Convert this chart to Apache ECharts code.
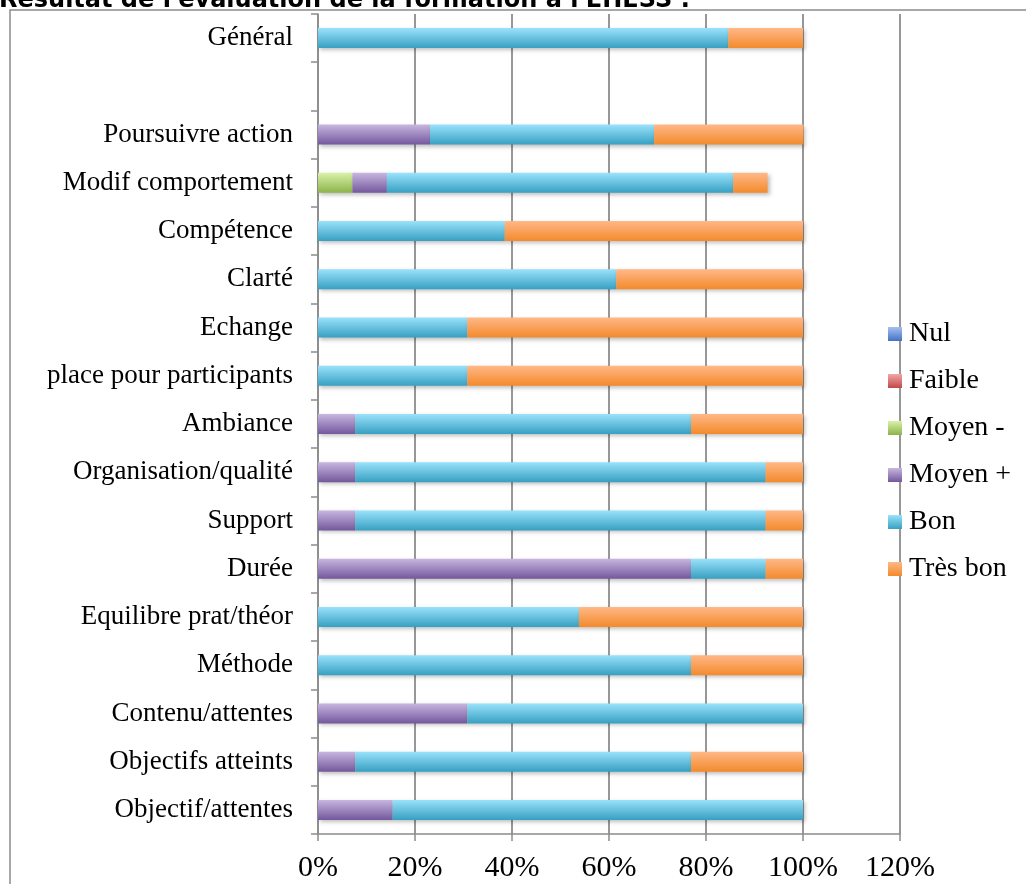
<!DOCTYPE html>
<html>
<head>
<meta charset="utf-8">
<script src="https://cdn.jsdelivr.net/npm/echarts@6/dist/echarts.min.js"></script>
<style>html,body{margin:0;padding:0;background:#fff}#c{width:1026px;height:884px}</style>
</head>
<body>
<div id="c"></div>
<script>
var titleText = "Résultat de l'évaluation de la formation à l'EHESS :";
var categories = ['Objectif/attentes','Objectifs atteints','Contenu/attentes','Méthode','Equilibre prat/théor','Durée','Support','Organisation/qualité','Ambiance','place pour participants','Echange','Clarté','Compétence','Modif comportement','Poursuivre action','','Général'];
var seriesNames = ['Nul','Faible','Moyen -','Moyen +','Bon','Très bon'];
var nul     = [0,0,0,0,0,0,0,0,0,0,0,0,0,0,0,'-',0];
var faible  = [0,0,0,0,0,0,0,0,0,0,0,0,0,0,0,'-',0];
var moyenM  = [0,0,0,0,0,0,0,0,0,0,0,0,0,7.1,0,'-',0];
var moyenP  = [15.4,7.7,30.8,0,0,76.9,7.7,7.7,7.7,0,0,0,0,7.1,23.1,'-',0];
var bon     = [84.6,69.2,69.2,76.9,53.8,15.4,84.6,84.6,69.2,30.8,30.8,61.5,38.5,71.4,46.2,'-',84.6];
var tresBon = [0,23.1,0,23.1,46.2,7.7,7.7,7.7,23.1,69.2,69.2,38.5,61.5,7.1,30.8,'-',15.4];
var xTicks = [0,20,40,60,80,100,120];

var colorsTopBottom = [
  ['#a4c0f2','#4472c4'],
  ['#f4a6a6','#c0494a'],
  ['#d8f2a8','#8db24a'],
  ['#c8b6e0','#73589c'],
  ['#9ae2fb','#37a0c2'],
  ['#ffb887','#f38a2c']
];
function grad(i){
  return new echarts.graphic.LinearGradient(0,0,0,1,[
    {offset:0,color:colorsTopBottom[i][0]},
    {offset:1,color:colorsTopBottom[i][1]}
  ]);
}
var dataSets = [nul,faible,moyenM,moyenP,bon,tresBon];
var FONT = 'Liberation Serif';
var chart = echarts.init(document.getElementById('c'));
var series = seriesNames.map(function(n,i){
  return {
    name:n, type:'bar', stack:'total', data:dataSets[i], barWidth:20,
    itemStyle:{color:grad(i), shadowColor:'rgba(0,0,0,0.25)', shadowBlur:4, shadowOffsetX:2, shadowOffsetY:2},
    emphasis:{disabled:true}
  };
});
chart.setOption({
  animation:false,
  backgroundColor:'#fff',
  graphic:[
    {type:'rect', shape:{x:10,y:10,width:1040,height:900}, style:{fill:'none',stroke:'#8c8c8c',lineWidth:1.5}, silent:true},
    {type:'text', x:-1, y:13, style:{text:titleText, font:'bold 24px "DejaVu Sans"', fill:'#000', verticalAlign:'bottom', align:'left'}, silent:true}
  ],
  grid:{left:318, right:126, top:14, bottom:50, containLabel:false},
  legend:{
    orient:'vertical', left:888, top:320, padding:0, itemWidth:14, itemHeight:14, itemGap:19, itemTextGap:5,
    icon:'rect', itemStyle:{borderWidth:0},
    textStyle:{fontFamily:FONT, fontSize:28, color:'#000', lineHeight:24, padding:[0,0,0,2]},
    data:seriesNames
  },
  xAxis:{
    type:'value', min:0, max:120, interval:20,
    axisLine:{show:true, lineStyle:{color:'#8c8c8c', width:1.5}},
    axisTick:{show:true, length:7, lineStyle:{color:'#8c8c8c', width:1.5}},
    axisLabel:{formatter:'{value}%', fontFamily:FONT, fontSize:30, color:'#000', margin:19},
    splitLine:{show:true, lineStyle:{color:'#8c8c8c', width:1.8}}
  },
  yAxis:{
    type:'category', data:categories,
    axisLine:{show:true, lineStyle:{color:'#8c8c8c', width:1.5}},
    axisTick:{show:true, length:7, lineStyle:{color:'#8c8c8c', width:1.5}},
    axisLabel:{fontFamily:FONT, fontSize:27, color:'#000', margin:25, interval:0},
    splitLine:{show:false}
  },
  series:series
});
</script>
</body>
</html>
